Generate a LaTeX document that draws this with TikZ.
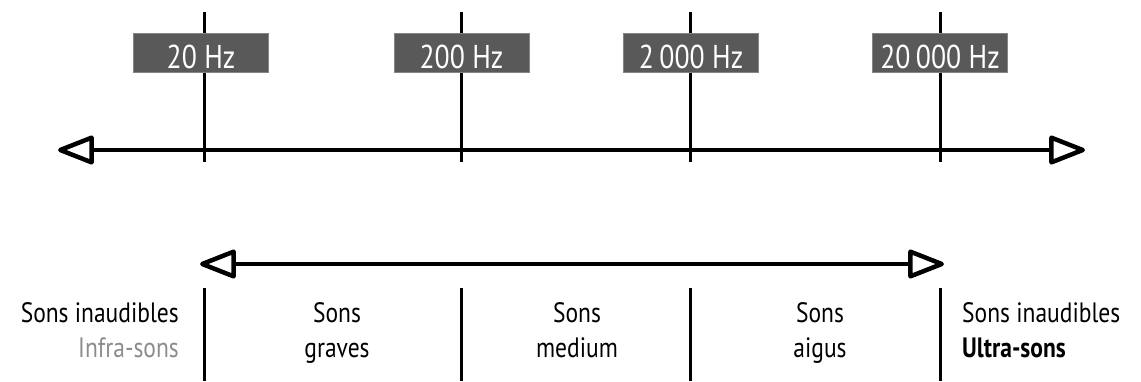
\documentclass[tikz,border=0pt]{standalone}
\usepackage{fontspec}
\setmainfont{PT Sans}[FakeStretch=0.84]
\usetikzlibrary{arrows.meta}
\definecolor{boxfill}{HTML}{595959}
\definecolor{boxline}{HTML}{858585}
\definecolor{infragray}{HTML}{8C8C8C}
\begin{document}
\begin{tikzpicture}[x=1pt,y=-1pt,
  tick/.style={line width=3pt,black},
  axis/.style={line width=4.5pt,black,
    {Triangle[open,length=40pt,width=30pt,round]}-{Triangle[open,length=40pt,width=30pt,round]}},
  hzbox/.style={fill=boxfill,draw=boxline,line width=1pt,text=white,
    minimum width=135pt,minimum height=39pt,inner sep=0pt,
    text height=31pt,text depth=0pt,
    font=\fontsize{33}{40}\selectfont},
  lbl/.style={inner sep=0pt,anchor=base,align=center,
    font=\fontsize{28}{35}\selectfont}
]
\useasboundingbox (0,0) rectangle (1141,381);
% top ticks
\foreach \n/\x in {a/204,b/461,c/690,d/940}{
  \coordinate (t\n1) at (\x,12);
  \coordinate (t\n2) at (\x,162);
  \draw[tick] (t\n1) -- (t\n2);
  \coordinate (b\n1) at (\x,288);
  \coordinate (b\n2) at (\x,381);
  \draw[tick] (b\n1) -- (b\n2);
}
% frequency boxes
\node[hzbox] (f1) at (201,52.5) {20 Hz};
\node[hzbox] (f2) at (461.5,52.5) {200 Hz};
\node[hzbox] (f3) at (691,52.5) {2\,000 Hz};
\node[hzbox] (f4) at (940,52.5) {20\,000 Hz};
% axes
\coordinate (L1) at (58,150);
\coordinate (R1) at (1085,150);
\draw[axis] (L1) -- (R1);
\coordinate (L2) at (200,264);
\coordinate (R2) at (944,264);
\draw[axis] (L2) -- (R2);
% labels
\node[lbl,anchor=base east,align=right] (infra) at (179,357)
  {Sons inaudibles\\\textcolor{infragray}{Infra-sons}};
\node[lbl,anchor=base west,align=left] (ultra) at (962,357)
  {Sons inaudibles\\\textbf{Ultra-sons}};
\node[lbl] (graves) at (337,357) {Sons\\graves};
\node[lbl] (medium) at (577,357) {Sons\\medium};
\node[lbl] (aigus) at (820,357) {Sons\\aigus};
\end{tikzpicture}
\end{document}
